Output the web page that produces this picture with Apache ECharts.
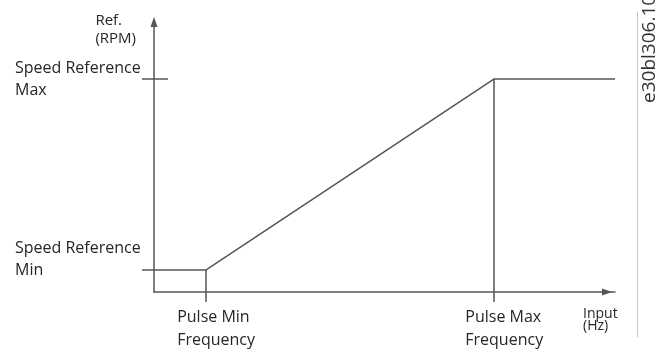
<!DOCTYPE html>
<html>
<head>
<meta charset="utf-8">
<script src="https://cdn.jsdelivr.net/npm/echarts@6/dist/echarts.min.js"></script>
<style>
  html, body { margin: 0; padding: 0; background: #fff; }
  #chart { width: 659px; height: 356px; }
</style>
</head>
<body>
<div id="chart"></div>
<script>
// Pulse input → speed reference transfer curve (normalised 0–100 scales)
const inputHz = [0, 11.3, 73.8, 100];
const refRpm = [8.15, 8.15, 78.9, 78.9];

// Named points on each axis
const pulseMin = 11.3;
const pulseMax = 73.8;
const speedRefMin = 8.15;
const speedRefMax = 78.9;

const xTickValues = [pulseMin, pulseMax];
const xTickLabels = ['Pulse Min\nFrequency', 'Pulse Max\nFrequency'];
const yTickValues = [speedRefMin, speedRefMax];
const yTickLabels = ['Speed Reference\nMin', 'Speed Reference\nMax'];

const FONT = '"Open Sans", "DejaVu Sans", sans-serif';
const NARROW = '"Liberation Sans Narrow", "Open Sans", sans-serif';
const INK = '#555555';
const TEXT = '#262626';

const chart = echarts.init(document.getElementById('chart'), null, { renderer: 'canvas' });

function labelFor(values, labels) {
  return function (v) {
    let best = 0;
    for (let i = 1; i < values.length; i++) {
      if (Math.abs(values[i] - v) < Math.abs(values[best] - v)) best = i;
    }
    return labels[best];
  };
}

// wrap each line in a left-aligned rich token so multi-line blocks share a left edge
function leftLines(text) {
  return text.split('\n').map(s => '{l|' + s + '}').join('\n');
}

const seriesData = inputHz.map((x, i) => [x, refRpm[i]]);

chart.setOption({
  animation: false,
  backgroundColor: '#ffffff',
  grid: { left: 154, right: 44, top: 22, bottom: 64, containLabel: false },
  xAxis: {
    type: 'value',
    min: 0,
    max: 100,
    name: leftLines('Input\n(Hz)'),
    nameLocation: 'end',
    nameGap: -32,
    nameTextStyle: {
      align: 'left', verticalAlign: 'top', padding: [16, 0, 0, 0],
      rich: { l: { fontFamily: NARROW, fontSize: 14, lineHeight: 12, color: TEXT, align: 'left' } }
    },
    splitLine: { show: false },
    axisLine: {
      show: true,
      lineStyle: { color: INK, width: 1.5 },
      symbol: ['none', 'triangle'],
      symbolSize: [7, 10],
      symbolOffset: [0, -8]
    },
    axisTick: {
      show: true, inside: false, length: 10,
      customValues: xTickValues,
      lineStyle: { color: INK, width: 1.5 }
    },
    axisLabel: {
      show: true,
      customValues: xTickValues,
      formatter: v => leftLines(labelFor(xTickValues, xTickLabels)(v)),
      align: 'center', margin: 14, padding: [0, 0, 0, 20],
      rich: { l: { fontFamily: FONT, fontSize: 16, lineHeight: 23, color: TEXT, align: 'left' } }
    }
  },
  yAxis: [
    {
      type: 'value',
      min: 0,
      max: 100,
      position: 'left',
      name: leftLines('Ref.\n(RPM)'),
      nameLocation: 'end',
      nameGap: 10,
      nameTextStyle: {
        align: 'right', verticalAlign: 'top', padding: [0, 18, 0, 0],
        rich: { l: { fontFamily: FONT, fontSize: 15, lineHeight: 18, color: TEXT, align: 'left' } }
      },
      splitLine: { show: false },
      axisLine: {
        show: true,
        lineStyle: { color: INK, width: 1.5 },
        symbol: ['none', 'triangle'],
        symbolSize: [7, 10],
        symbolOffset: [0, 0]
      },
      axisTick: {
        show: true, inside: false, length: 12,
        customValues: yTickValues,
        lineStyle: { color: INK, width: 1.5 }
      },
      axisLabel: {
        show: true,
        customValues: [speedRefMax],
        formatter: labelFor(yTickValues, yTickLabels),
        fontFamily: FONT, fontSize: 16, lineHeight: 22, color: TEXT,
        align: 'left', verticalAlign: 'middle', margin: 139
      }
    },
    {
      // overlay axis: inner half of the max tick and the lower label,
      // whose block sits above its tick (trailing blank line lifts it)
      type: 'value',
      min: 0,
      max: 100,
      position: 'left',
      offset: 0,
      splitLine: { show: false },
      axisLine: { show: false },
      axisTick: {
        show: true, inside: true, length: 14,
        customValues: [speedRefMax],
        lineStyle: { color: INK, width: 1.5 }
      },
      axisLabel: {
        show: true,
        customValues: [speedRefMin],
        formatter: v => labelFor(yTickValues, yTickLabels)(v) + '\n ',
        fontFamily: FONT, fontSize: 16, lineHeight: 22, color: TEXT,
        align: 'left', verticalAlign: 'middle', margin: 139
      }
    }
  ],
  series: [
    {
      type: 'line',
      data: seriesData,
      showSymbol: false,
      symbol: 'none',
      clip: false,
      lineStyle: { color: INK, width: 1.5 },
      silent: true,
      markLine: {
        silent: true,
        symbol: ['none', 'none'],
        label: { show: false },
        lineStyle: { color: INK, width: 1.5, type: 'solid' },
        data: [
          [{ coord: [pulseMin, speedRefMin] }, { coord: [pulseMin, 0] }],
          [{ coord: [pulseMax, speedRefMax] }, { coord: [pulseMax, 0] }]
        ]
      }
    }
  ],
  graphic: [
    {
      type: 'line',
      silent: true,
      shape: { x1: 637.5, y1: 12, x2: 637.5, y2: 337 },
      style: { stroke: '#c4c4c4', lineWidth: 1 }
    },
    {
      type: 'text',
      silent: true,
      x: 650,
      y: 103,
      rotation: Math.PI / 2,
      style: {
        text: 'e30bl306.10',
        font: '19px ' + FONT,
        fill: '#333333',
        align: 'left',
        verticalAlign: 'middle'
      }
    }
  ]
});
</script>
</body>
</html>
